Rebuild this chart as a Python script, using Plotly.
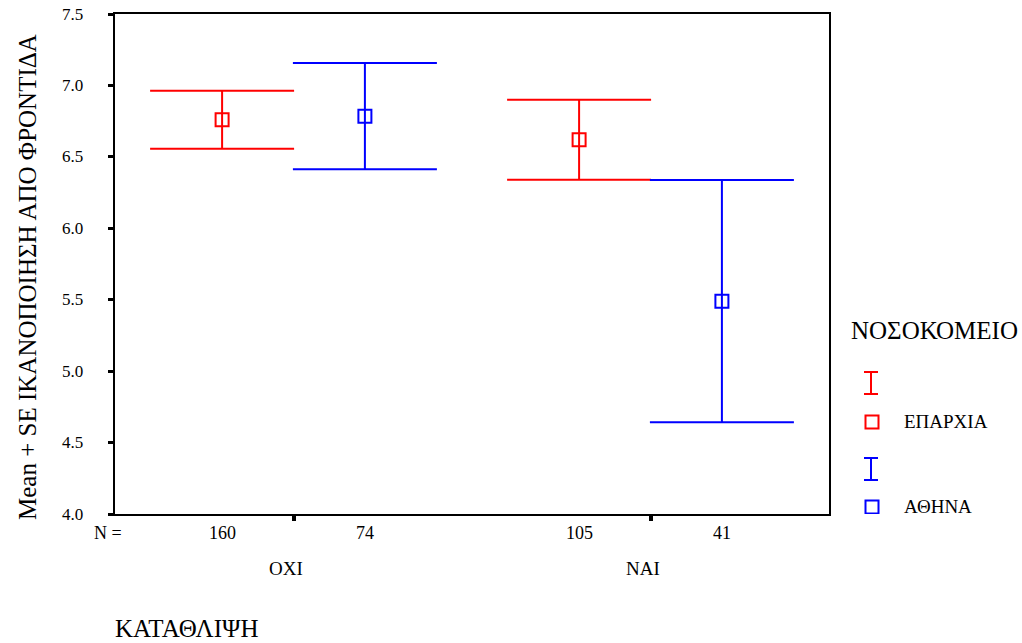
import plotly.graph_objects as go

# Data: mean satisfaction with care (± standard error) by depression and hospital
groups = ["ΟΧΙ", "ΝΑΙ"]
hospitals = ["ΕΠΑΡΧΙΑ", "ΑΘΗΝΑ"]
colors = ["#ff0000", "#0000ff"]
means = {"ΕΠΑΡΧΙΑ": [6.76, 6.62], "ΑΘΗΝΑ": [6.785, 5.49]}
ses = {"ΕΠΑΡΧΙΑ": [0.203, 0.28], "ΑΘΗΝΑ": [0.372, 0.848]}
counts = {"ΕΠΑΡΧΙΑ": [160, 105], "ΑΘΗΝΑ": [74, 41]}
y_ticks = [4.0, 4.5, 5.0, 5.5, 6.0, 6.5, 7.0, 7.5]

FONT = "Liberation Serif"
W, H = 1022, 643
L, R, T, B = 115, 0, 14, 129
plot_w = W - L - R
main_frac = 714 / plot_w
offset = 0.2  # horizontal offset of each hospital within a group
Y_RANGE = [4.0, 7.5]

fig = go.Figure()
group_pos = [1, 2]
for hi, h in enumerate(hospitals):
    xs = [g + (offset if hi else -offset) for g in group_pos]
    fig.add_trace(go.Scatter(
        x=xs, y=means[h], mode="markers",
        marker=dict(symbol="square-open", size=13, color=colors[hi],
                    line=dict(width=2, color=colors[hi])),
        error_y=dict(type="data", array=ses[h], visible=True,
                     color=colors[hi], thickness=2, width=72),
        showlegend=False, xaxis="x", yaxis="y",
    ))

# Custom legend drawn in an auxiliary pixel-scaled axis on the right
lx0 = 829
leg_items_y = [383, 422, 469, 507]
for hi, h in enumerate(hospitals):
    fig.add_trace(go.Scatter(
        x=[871], y=[leg_items_y[2 * hi]], mode="markers",
        marker=dict(size=1, color="rgba(0,0,0,0)"),
        error_y=dict(type="constant", value=11, visible=True,
                     color=colors[hi], thickness=2, width=7),
        showlegend=False, xaxis="x2", yaxis="y2", hoverinfo="skip",
    ))
    fig.add_trace(go.Scatter(
        x=[872], y=[leg_items_y[2 * hi + 1]], mode="markers",
        marker=dict(symbol="square-open", size=13, color=colors[hi],
                    line=dict(width=2, color=colors[hi])),
        showlegend=False, xaxis="x2", yaxis="y2", hoverinfo="skip",
    ))

annotations = [
    dict(text="ΝΟΣΟΚΟΜΕΙΟ", x=934, y=330, xref="x2", yref="y2",
         showarrow=False, font=dict(family=FONT, size=25, color="black")),
    dict(text="N =", x=0, xref="paper", y=0, yref="paper", xanchor="right",
         yanchor="middle", xshift=9, yshift=-19, showarrow=False,
         font=dict(family=FONT, size=18, color="black")),
    dict(text="ΚΑΤΑΘΛΙΨΗ", x=0, xref="paper", y=0, yref="paper",
         xanchor="left", yanchor="middle", xshift=-2, yshift=-114,
         showarrow=False, font=dict(family=FONT, size=25, color="black")),
    dict(text="Mean + SE ΙΚΑΝΟΠΟΙΗΣΗ ΑΠΟ ΦΡΟΝΤΙΔΑ", x=0, xref="paper",
         y=0.5, yref="paper", xanchor="center", yanchor="middle",
         xshift=-88, yshift=-13, textangle=-90, showarrow=False,
         font=dict(family=FONT, size=25, color="black")),
]
# y tick labels, placed on the value scale and set well left of the frame
for v in y_ticks:
    annotations.append(dict(
        text=f"{v:.1f}", x=0, xref="paper", y=v, yref="y",
        xanchor="right", yanchor="middle", xshift=-30, showarrow=False,
        font=dict(family=FONT, size=17, color="black")))
for hi, h in enumerate(hospitals):
    annotations.append(dict(
        text=h, x=902, y=leg_items_y[2 * hi + 1] - 1, xref="x2", yref="y2",
        xanchor="left", yanchor="middle", showarrow=False,
        font=dict(family=FONT, size=19, color="black")))
    for gi, g in enumerate(group_pos):
        annotations.append(dict(
            text=str(counts[h][gi]), x=g + (offset if hi else -offset),
            xref="x", y=0, yref="paper", yanchor="middle", yshift=-19,
            showarrow=False, font=dict(family=FONT, size=18, color="black")))
for gi, g in enumerate(group_pos):
    annotations.append(dict(
        text=groups[gi], x=g - 0.02, xref="x", y=0, yref="paper",
        yanchor="middle", yshift=-54, showarrow=False,
        font=dict(family=FONT, size=19, color="black")))

fig.update_layout(
    width=W, height=H, margin=dict(l=L, r=R, t=T, b=B),
    paper_bgcolor="white", plot_bgcolor="white",
    font=dict(family=FONT, color="black"),
    xaxis=dict(domain=[0, main_frac], range=[0.5, 2.5], showgrid=False,
               zeroline=False, showline=True, linecolor="black",
               linewidth=2, mirror=True, tickvals=group_pos,
               ticks="outside", ticklen=5, tickwidth=4, tickcolor="black",
               showticklabels=False),
    yaxis=dict(domain=[0, 1], range=Y_RANGE, showgrid=False,
               zeroline=False, showline=True, linecolor="black",
               linewidth=2, mirror=True, tickmode="array", tickvals=y_ticks,
               ticks="outside", ticklen=5, tickwidth=3, tickcolor="black",
               showticklabels=False),
    xaxis2=dict(domain=[main_frac, 1], range=[lx0, W], visible=False,
                anchor="y2"),
    yaxis2=dict(domain=[0, 1], range=[H - B, T], visible=False,
                anchor="x2"),
    annotations=annotations,
)

fig.write_html("out.html")
